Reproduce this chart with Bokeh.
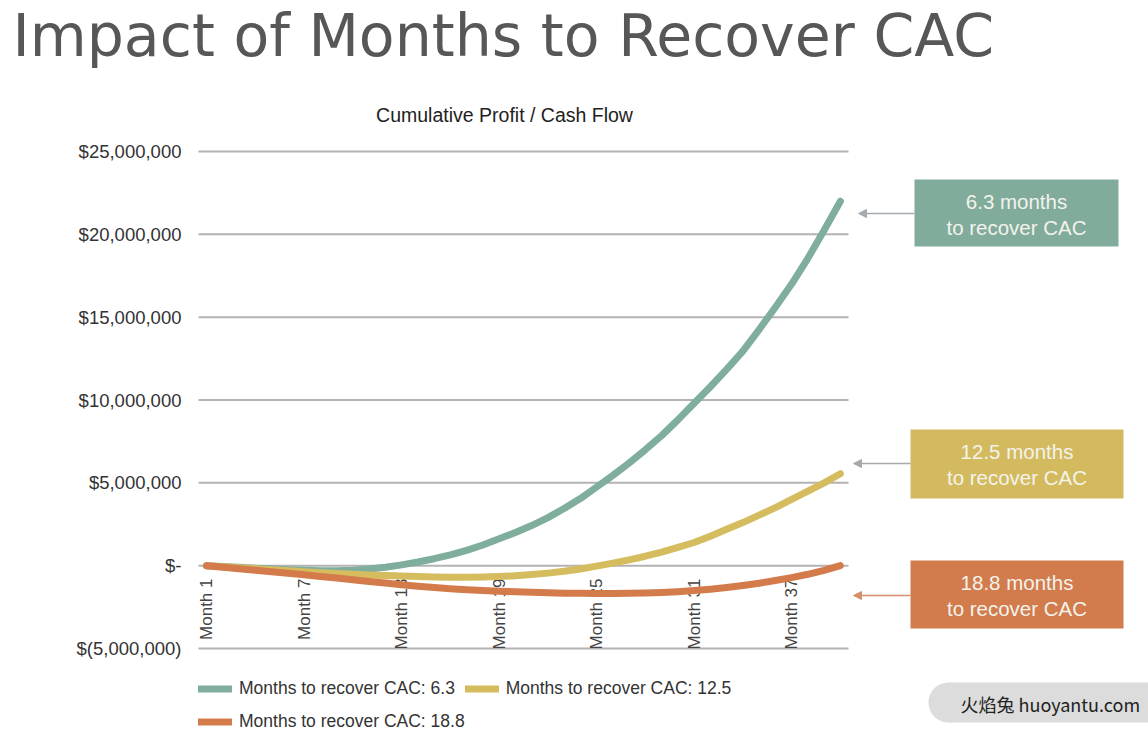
import numpy as np
from bokeh.plotting import figure
from bokeh.models import (Range1d, LinearAxis, FixedTicker, ColumnDataSource,
                          Legend, LegendItem, Arrow, NormalHead)
from bokeh.core.properties import value
from bokeh.embed import file_html
from bokeh.resources import INLINE

# ---------------- data ----------------
months = list(range(1, 41))
tick_months = [1, 7, 13, 19, 25, 31, 37]
tick_labels = ["Month 1", "Month 7", "Month 13", "Month 19", "Month 25", "Month 31", "Month 37"]

# cumulative profit, $ millions
green_m = [0.0, -0.05, -0.10, -0.15, -0.20, -0.25, -0.28, -0.30, -0.30, -0.27,
           -0.20, -0.10, 0.05, 0.22, 0.42, 0.65, 0.92, 1.25, 1.62, 2.00,
           2.42, 2.90, 3.45, 4.05, 4.75, 5.45, 6.20, 7.00, 7.85, 8.80,
           9.80, 10.80, 11.85, 12.95, 14.25, 15.60, 17.00, 18.55, 20.25, 22.00]
yellow_m = [0.0, -0.06, -0.12, -0.18, -0.24, -0.30, -0.36, -0.42, -0.47, -0.52,
            -0.56, -0.60, -0.63, -0.66, -0.68, -0.70, -0.70, -0.69, -0.66, -0.61,
            -0.54, -0.45, -0.34, -0.20, -0.03, 0.15, 0.35, 0.57, 0.82, 1.10,
            1.40, 1.78, 2.20, 2.60, 3.05, 3.50, 4.00, 4.50, 5.00, 5.55]
orange_m = [0.0, -0.10, -0.19, -0.28, -0.37, -0.46, -0.55, -0.65, -0.75, -0.85,
            -0.95, -1.05, -1.15, -1.24, -1.32, -1.39, -1.45, -1.50, -1.54, -1.58,
            -1.61, -1.64, -1.66, -1.67, -1.68, -1.68, -1.67, -1.65, -1.62, -1.57,
            -1.50, -1.42, -1.32, -1.20, -1.06, -0.90, -0.72, -0.52, -0.28, 0.0]

series_names = ["Months to recover CAC: 6.3", "Months to recover CAC: 12.5",
                "Months to recover CAC: 18.8"]
callout_top = ["6.3 months", "12.5 months", "18.8 months"]
callout_bottom = ["to recover CAC", "to recover CAC", "to recover CAC"]

y_ticks = [-5e6, 0, 5e6, 10e6, 15e6, 20e6, 25e6]
y_tick_labels = ["$(5,000,000)", "$-", "$5,000,000", "$10,000,000",
                 "$15,000,000", "$20,000,000", "$25,000,000"]

title_text = "Impact of Months to Recover CAC"
subtitle_text = "Cumulative Profit / Cash Flow"
watermark_text = "火焰兔 huoyantu.com"

# ---------------- styling / geometry ----------------
line_colors = ["#7fae9c", "#d5bd5f", "#d47b4b"]
box_colors = ["#81ab9b", "#d4ba5e", "#d27c4d"]
arrow_colors = ["#a3aab0", "#a8a8a8", "#d6906c"]

W, H = 1148, 738
MARGIN = 0
PX_PER_MONTH = 16.25
FRAME_LEFT_PAGE = 198.0
Y_TOP_PAGE, Y_BOT_PAGE = 151.0, 648.0  # page y of 25M and -5M
PX_PER_DOLLAR = (Y_BOT_PAGE - Y_TOP_PAGE) / 30e6
ZERO_PAGE = Y_BOT_PAGE - 5e6 * PX_PER_DOLLAR
SANS = value("Liberation Sans")


def dx(px):
    return 0.5 + (px - FRAME_LEFT_PAGE) / PX_PER_MONTH


def dy(py):
    return (ZERO_PAGE - py) / PX_PER_DOLLAR


p = figure(width=W, height=H, x_range=Range1d(dx(MARGIN), dx(MARGIN + W)),
           y_range=Range1d(dy(MARGIN + H), dy(MARGIN)),
           x_axis_location=None, y_axis_location=None,
           toolbar_location=None, output_backend="svg", min_border=0)
p.outline_line_color = None
p.grid.visible = False
p.background_fill_color = "white"
p.border_fill_color = "white"

# y axis at fixed location (left edge of plot area)
yaxis = LinearAxis(fixed_location=months[0] - 0.5,
                   ticker=FixedTicker(ticks=y_ticks),
                   major_label_overrides={t: l for t, l in zip(y_ticks, y_tick_labels)})
yaxis.axis_line_color = None
yaxis.major_tick_line_color = None
yaxis.minor_tick_line_color = None
yaxis.major_tick_out = 0
yaxis.major_tick_in = 0
yaxis.major_label_standoff = 17
yaxis.major_label_text_font = "Liberation Sans"
yaxis.major_label_text_font_size = "18.5px"
yaxis.major_label_text_color = "#333333"
p.add_layout(yaxis, "left")

# horizontal gridlines over the category span
x_lo, x_hi = months[0] - 0.5, months[-1] + 0.5
p.segment(x0=[x_lo] * len(y_ticks), x1=[x_hi] * len(y_ticks), y0=y_ticks, y1=y_ticks,
          line_color="#b3b3b3", line_width=2)

# x tick labels (vertical) hanging from the zero line
p.text(x=tick_months, y=[dy(578)] * len(tick_months), text=tick_labels,
       angle=np.pi / 2, text_align="right", text_baseline="middle",
       text_font=SANS, text_font_size="17px", text_color="#444444")

# series
renderers = []
for vals, col in zip([green_m, yellow_m, orange_m], line_colors):
    src = ColumnDataSource(dict(x=months, y=[v * 1e6 for v in vals]))
    r = p.line("x", "y", source=src, line_color=col, line_width=7,
               line_cap="round", line_join="round")
    renderers.append(r)

# legend (filled column by column: col 1 = 6.3, 18.8; col 2 = 12.5)
legend_order = [0, 2, 1]
legend = Legend(items=[LegendItem(label=series_names[i], renderers=[renderers[i]]) for i in legend_order],
                ncols=2, location=(FRAME_LEFT_PAGE - MARGIN, MARGIN + H - 737.5),
                glyph_width=34, glyph_height=33, label_height=33, label_standoff=7,
                spacing=0, padding=0, margin=0, border_line_color=None,
                background_fill_alpha=0, label_text_font="Liberation Sans",
                label_text_font_size="17.5px", label_text_color="#333333")
p.add_layout(legend)

# titles
p.text(x=[dx(12)], y=[dy(35.5)], text=[title_text], text_font=value("DejaVu Sans"),
       text_font_size="58.5px", text_baseline="middle", text_align="left",
       text_color="#575757")
p.text(x=[dx(504)], y=[dy(114)], text=[subtitle_text], text_font=SANS,
       text_font_size="19.5px", text_baseline="middle", text_align="center",
       text_color="#222222")

# callout boxes
box_l = [914, 910, 910]
box_r = [1118, 1123, 1123]
box_t = [179, 429, 560]
box_b = [246, 498, 628]
p.quad(left=[dx(v) for v in box_l], right=[dx(v) for v in box_r],
       top=[dy(v) for v in box_t], bottom=[dy(v) for v in box_b],
       fill_color=box_colors, line_color=None)
cx = [dx((a + b) / 2) for a, b in zip(box_l, box_r)]
p.text(x=cx, y=[dy(t + 22) for t in box_t], text=callout_top, text_font=SANS,
       text_font_size="20.5px", text_align="center", text_baseline="middle",
       text_color="#f3f3ec")
p.text(x=cx, y=[dy(t + 48) for t in box_t], text=callout_bottom, text_font=SANS,
       text_font_size="20.5px", text_align="center", text_baseline="middle",
       text_color="#f3f3ec")

arrow_y = [213, 463, 595]
arrow_end = [858, 853, 853]
for l, ay, ae, c in zip(box_l, arrow_y, arrow_end, arrow_colors):
    p.add_layout(Arrow(x_start=dx(l), y_start=dy(ay), x_end=dx(ae), y_end=dy(ay),
                       line_color=c, line_width=1.5,
                       end=NormalHead(size=8, fill_color=c, line_color=c)))

# watermark pill
p.scatter(x=[dx(948)], y=[dy(702)], size=40, marker="circle",
          fill_color="#dcdcdc", line_color=None)
p.quad(left=[dx(948)], right=[dx(MARGIN + W)], top=[dy(682)], bottom=[dy(722)],
       fill_color="#dcdcdc", line_color=None)
p.text(x=[dx(960)], y=[dy(703)], text=[watermark_text],
       text_font=value("Noto Sans CJK SC"), text_font_size="18px",
       text_align="left", text_baseline="middle", text_color="#222222")

open("out.html", "w").write(file_html(p, INLINE))
